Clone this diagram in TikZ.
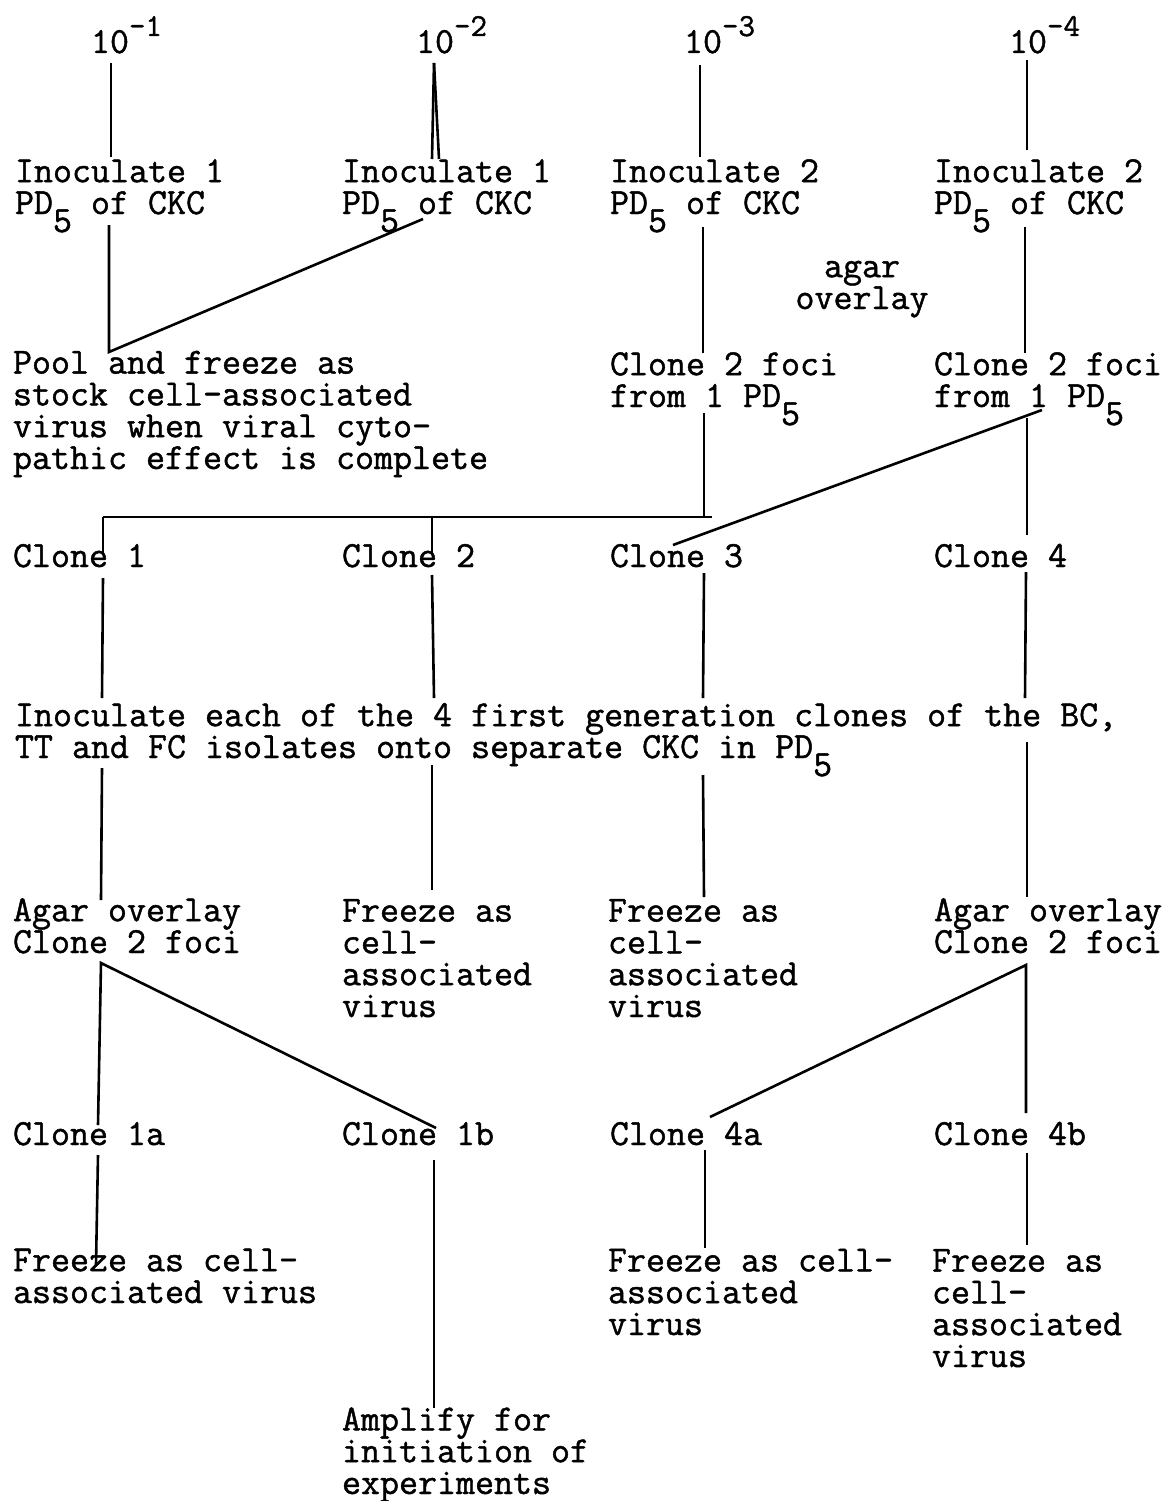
\documentclass[tikz,border=0pt]{standalone}
\usepackage{fontspec}
\newfontfamily\twfam{Latin Modern Mono}[FakeBold=1.2]
\newcommand{\subfive}{\raisebox{-18pt}{5}}
\newcommand{\tenpow}[1]{\raisebox{17pt}{\fontsize{32}{32}\selectfont #1}}
\newcommand{\tightlines}{\setlength{\lineskiplimit}{-100pt}}
\newcommand{\twfont}{\twfam\fontsize{36.9}{31.8}\selectfont\tightlines}
\tikzset{
  txt/.style={anchor=base west, inner sep=0pt, outer sep=0pt, align=left,
    font=\twfont},
  ln/.style={line width=2.6pt, black}
}
\begin{document}
\begin{tikzpicture}[x=1pt, y=-1pt]
\useasboundingbox (0,0) rectangle (1162,1501);
% (multi-line nodes: the base anchor is the baseline of the LAST line)
% ---- dilutions
\node[txt] (e1) at (91,53) {10\tenpow{-1}};
\node[txt] (e2) at (416,53) {10\tenpow{-2}};
\node[txt] (e3) at (684,53) {10\tenpow{-3}};
\node[txt] (e4) at (1009,53) {10\tenpow{-4}};
% ---- inoculate
\node[txt] (i1) at (15,214) {Inoculate 1\\PD\subfive{} of CKC};
\node[txt] (i2) at (342,214) {Inoculate 1\\PD\subfive{} of CKC};
\node[txt] (i3) at (610,214) {Inoculate 2\\PD\subfive{} of CKC};
\node[txt] (i4) at (934,214) {Inoculate 2\\PD\subfive{} of CKC};
\node[txt, anchor=base, align=center] (agar) at (862,309) {agar\\overlay};
% ---- pool / clone foci
\node[txt] (pool) at (13,469) {Pool and freeze as\\stock cell-associated\\virus when viral cyto-\\pathic effect is complete};
\node[txt] (cf3) at (610,407) {Clone 2 foci\\from 1 PD\subfive};
\node[txt] (cf4) at (934,407) {Clone 2 foci\\from 1 PD\subfive};
% ---- clones
\node[txt] (c1) at (13,567) {Clone 1};
\node[txt] (c2) at (342,567) {Clone 2};
\node[txt] (c3) at (610,567) {Clone 3};
\node[txt] (c4) at (934,567) {Clone 4};
% ---- big text
\node[txt] (big) at (15,758) {Inoculate each of the 4 first generation clones of the BC,\\TT and FC isolates onto separate CKC in PD\subfive};
% ---- second generation
\node[txt] (ag1) at (13,953) {Agar overlay\\Clone 2 foci};
\node[txt] (fz2) at (342,1017) {Freeze as\\cell-\\associated\\virus};
\node[txt] (fz3) at (608,1017) {Freeze as\\cell-\\associated\\virus};
\node[txt] (ag4) at (934,953) {Agar overlay\\Clone 2 foci};
\node[txt] (c1a) at (13,1145) {Clone 1a};
\node[txt] (c1b) at (342,1145) {Clone 1b};
\node[txt] (c4a) at (610,1145) {Clone 4a};
\node[txt] (c4b) at (934,1145) {Clone 4b};
\node[txt] (f1a) at (13,1303) {Freeze as cell-\\associated virus};
\node[txt] (amp) at (342,1494) {Amplify for\\initiation of\\experiments};
\node[txt] (f4a) at (608,1335) {Freeze as cell-\\associated\\virus};
\node[txt] (f4b) at (932,1367) {Freeze as\\cell-\\associated\\virus};
% ---- connector points
\coordinate (e1b) at (111,63);  \coordinate (i1t) at (111,157);
\coordinate (e2b) at (434,63);  \coordinate (i2tl) at (432,159); \coordinate (i2tr) at (439,159);
\coordinate (e3b) at (700,65);  \coordinate (i3t) at (700,157);
\coordinate (e4b) at (1027,60); \coordinate (i4t) at (1027,150);
\coordinate (i1b) at (109,225); \coordinate (poolt) at (109,352); \coordinate (i2b) at (423,219);
\coordinate (i3b) at (703,227); \coordinate (cf3t) at (703,353);
\coordinate (i4b) at (1025,227); \coordinate (cf4t) at (1025,353);
\coordinate (cf3b) at (704,413); \coordinate (barr) at (712,517); \coordinate (bar3) at (704,517);
\coordinate (barl) at (103,517); \coordinate (c1t) at (103,555);
\coordinate (bar2) at (432,517); \coordinate (c2t) at (432,555);
\coordinate (cf4b) at (1027,418); \coordinate (c4t) at (1027,535);
\coordinate (cf4d) at (1042,410); \coordinate (c3t) at (673,545);
\coordinate (c1b1) at (103,578); \coordinate (big1) at (102,698);
\coordinate (c2b1) at (432,575); \coordinate (big2) at (434,698);
\coordinate (c3b1) at (704,573); \coordinate (big3) at (703,698);
\coordinate (c4b1) at (1026,572); \coordinate (big4) at (1025,698);
\coordinate (bigb1) at (102,768); \coordinate (ag1t) at (101,900);
\coordinate (bigb2) at (432,765); \coordinate (fz2t) at (432,890);
\coordinate (bigb3) at (703,775); \coordinate (fz3t) at (704,897);
\coordinate (bigb4) at (1027,742); \coordinate (ag4t) at (1027,897);
\coordinate (ag1b) at (101,963); \coordinate (c1at) at (98,1125); \coordinate (c1bt) at (436,1128);
\coordinate (ag4b) at (1026,965); \coordinate (c4bt) at (1026,1113); \coordinate (c4at) at (710,1117);
\coordinate (c1ab) at (98,1155); \coordinate (f1at) at (96,1265);
\coordinate (c1bb) at (434,1160); \coordinate (ampt) at (434,1408);
\coordinate (c4ab) at (705,1150); \coordinate (f4at) at (705,1248);
\coordinate (c4bb) at (1027,1153); \coordinate (f4bt) at (1027,1245);
% ---- connectors
\draw[ln] (e1b) -- (i1t);
\draw[ln] (e2b) -- (i2tl);
\draw[ln] (e2b) -- (i2tr);
\draw[ln] (e3b) -- (i3t);
\draw[ln] (e4b) -- (i4t);
\draw[ln] (i1b) -- (poolt) -- (i2b);
\draw[ln] (i3b) -- (cf3t);
\draw[ln] (i4b) -- (cf4t);
\draw[ln] (cf3b) -- (bar3);
\draw[ln] (barl) -- (barr);
\draw[ln] (barl) -- (c1t);
\draw[ln] (bar2) -- (c2t);
\draw[ln] (cf4b) -- (c4t);
\draw[ln] (cf4d) -- (c3t);
\draw[ln] (c1b1) -- (big1);
\draw[ln] (c2b1) -- (big2);
\draw[ln] (c3b1) -- (big3);
\draw[ln] (c4b1) -- (big4);
\draw[ln] (bigb1) -- (ag1t);
\draw[ln] (bigb2) -- (fz2t);
\draw[ln] (bigb3) -- (fz3t);
\draw[ln] (bigb4) -- (ag4t);
\draw[ln] (c1at) -- (ag1b) -- (c1bt);
\draw[ln] (c4at) -- (ag4b) -- (c4bt);
\draw[ln] (c1ab) -- (f1at);
\draw[ln] (c1bb) -- (ampt);
\draw[ln] (c4ab) -- (f4at);
\draw[ln] (c4bb) -- (f4bt);
\end{tikzpicture}
\end{document}
